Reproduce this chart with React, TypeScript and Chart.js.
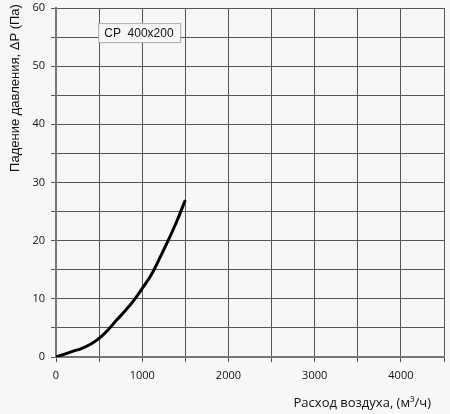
import React, { useEffect, useRef } from "react";
import { Chart, registerables } from "chart.js";

Chart.register(...registerables);

const flowValues = [0, 100, 200, 300, 400, 500, 600, 700, 800, 900, 1000, 1100, 1200, 1300, 1400, 1500];
const pressureValues = [0, 0.5, 1.0, 1.5, 2.2, 3.2, 4.6, 6.3, 7.9, 9.7, 11.8, 14.0, 16.9, 20.0, 23.3, 27.0];
const xLabelTicks = [0, 1000, 2000, 3000, 4000];
const yLabelTicks = [0, 10, 20, 30, 40, 50, 60];
const seriesName = "CP  400x200";
const xTitle = "Расход воздуха, (м³/ч)";
const yTitle = "Падение давления, ΔP (Па)";

const overlay = {
  id: "overlay",
  beforeDraw(chart: any) {
    const ctx = chart.ctx;
    ctx.save();
    ctx.fillStyle = "#f7f7f7";
    ctx.fillRect(0, 0, chart.width, chart.height);
    ctx.restore();
  },
  afterDraw(chart: any) {
    const ctx = chart.ctx;
    const xs = chart.scales.x;
    const ys = chart.scales.y;
    ctx.save();
    // legend box
    const bx = xs.getPixelForValue(490);
    const by = ys.getPixelForValue(57.4);
    const bw = 82;
    const bh = 19;
    ctx.fillStyle = "#f7f7f7";
    ctx.fillRect(bx, by, bw, bh);
    ctx.strokeStyle = "#aaaaaa";
    ctx.lineWidth = 1;
    ctx.strokeRect(bx + 0.5, by + 0.5, bw, bh);
    ctx.fillStyle = "#111";
    ctx.font = "12px 'Liberation Sans'";
    ctx.textBaseline = "middle";
    ctx.textAlign = "left";
    ctx.fillText(seriesName, bx + 6, by + bh / 2 + 1);
    // x title
    ctx.font = "13px 'Open Sans'";
    ctx.textAlign = "right";
    ctx.textBaseline = "middle";
    ctx.fillText(xTitle, 431, 403);
    // y title
    ctx.translate(15, 88);
    ctx.rotate(-Math.PI / 2);
    ctx.font = "13px 'Liberation Sans'";
    ctx.textAlign = "center";
    ctx.textBaseline = "middle";
    ctx.fillText(yTitle, 0, 0);
    ctx.restore();
  },
};

export default function App() {
  const ref = useRef<HTMLCanvasElement>(null);
  useEffect(() => {
    const chart = new Chart(ref.current!, {
      type: "line",
      data: {
        datasets: [
          {
            label: seriesName,
            data: flowValues.map((x, i) => ({ x, y: pressureValues[i] })),
            borderColor: "#000",
            borderWidth: 3,
            pointRadius: 0,
            tension: 0.4,
            fill: false,
          },
        ],
      },
      options: {
        animation: false,
        responsive: false,
        maintainAspectRatio: false,
        layout: { padding: { top: 8, right: 6, bottom: 0, left: 0 } },
        plugins: { legend: { display: false }, tooltip: { enabled: false } },
        scales: {
          x: {
            type: "linear",
            min: 0,
            max: 4500,
            ticks: {
              stepSize: 500,
              color: "#111",
              font: { family: "'Open Sans'", size: 11 },
              padding: 7,
              maxRotation: 0,
              autoSkip: false,
              callback: (v: any) => (xLabelTicks.includes(v) ? String(v) : ""),
            },
            grid: { color: "#555", lineWidth: 1, tickLength: 5, drawTicks: true },
            border: { color: "#777", width: 2 },
            afterFit: (s: any) => {
              s.height = 57;
              s.paddingLeft = 0;
              s.paddingRight = 0;
            },
          },
          y: {
            type: "linear",
            min: 0,
            max: 60,
            ticks: {
              stepSize: 5,
              color: "#111",
              font: { family: "'Open Sans'", size: 11 },
              padding: 6,
              autoSkip: false,
              callback: (v: any) => (yLabelTicks.includes(v) ? String(v) : ""),
            },
            grid: { color: "#555", lineWidth: 1, tickLength: 5 },
            border: { color: "#777", width: 2 },
            afterFit: (s: any) => {
              s.width = 56;
              s.paddingTop = 0;
              s.paddingBottom = 0;
            },
          },
        },
      },
      plugins: [overlay],
    } as any);
    return () => chart.destroy();
  }, []);
  return (
    <div style={{ position: "fixed", left: 0, top: 0, width: 450, height: 414 }}>
      <canvas ref={ref} width={450} height={414} style={{ width: 450, height: 414 }} />
    </div>
  );
}
